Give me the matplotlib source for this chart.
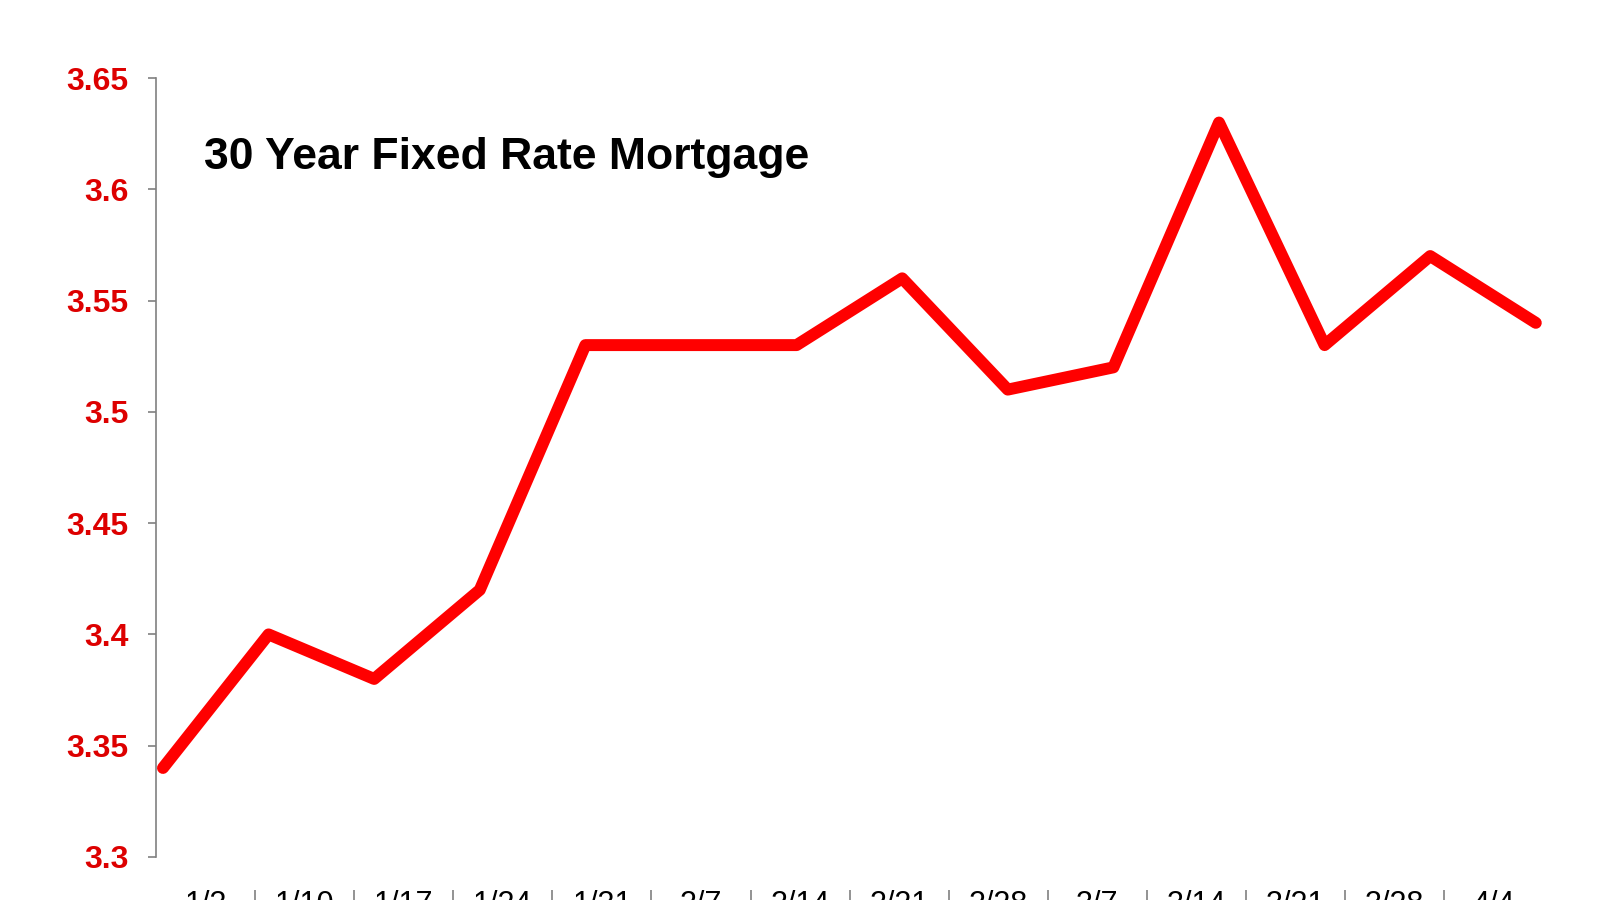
import matplotlib
matplotlib.use("Agg")
import matplotlib.pyplot as plt
import numpy as np

dates = ["1/3", "1/10", "1/17", "1/24", "1/31", "2/7", "2/14", "2/21",
         "2/28", "3/7", "3/14", "3/21", "3/28", "4/4"]
rates = [3.34, 3.40, 3.38, 3.42, 3.53, 3.53, 3.53, 3.56,
         3.51, 3.52, 3.63, 3.53, 3.57, 3.54]
yticks = [3.3, 3.35, 3.4, 3.45, 3.5, 3.55, 3.6, 3.65]
yticklabels = ["3.3", "3.35", "3.4", "3.45", "3.5", "3.55", "3.6", "3.65"]
title = "30 Year Fixed Rate Mortgage"

plt.rcParams['font.family'] = ['Liberation Sans', 'DejaVu Sans']

fig = plt.figure(figsize=(16, 9), dpi=100)
ax = fig.add_axes([0.0975, 0.0478, 0.9645 - 0.0975, 0.9133 - 0.0478])

x = np.arange(len(rates))
ax.plot(x, rates, color='#FF0000', linewidth=8.6, solid_capstyle='round',
        solid_joinstyle='round', clip_on=False, zorder=3)

xmin, xmax = -0.066, len(rates) - 1 + 0.07
ax.set_xlim(xmin, xmax)
ax.set_ylim(3.3, 3.65)

n = len(dates)
w = (xmax - xmin) / n
ax.set_xticks([xmin + (k + 0.5) * w for k in range(n)])
ax.set_xticks([xmin + k * w for k in range(1, n)], minor=True)
ax.set_xticklabels(dates)
ax.tick_params(axis='x', which='major', length=0, pad=0, labelsize=22,
               labelcolor='black')
ax.tick_params(axis='x', which='minor', length=20, width=1.2, color='#808080')

ax.set_yticks(yticks)
ax.set_yticklabels(yticklabels, fontsize=23, fontweight='bold', color='#DD0000')
ax.tick_params(axis='y', length=6, width=1.2, color='#808080', pad=14)

for s in ['top', 'right']:
    ax.spines[s].set_visible(False)
ax.spines['left'].set_color('#808080')
ax.spines['left'].set_linewidth(1.2)
ax.spines['bottom'].set_position(('outward', 23.8))
ax.spines['bottom'].set_color('none')

fig.text(204 / 1600, 1 - 158 / 900, title, fontsize=32, fontweight='bold',
         color='black', ha='left', va='center')

fig.savefig("out.png", dpi=100)
